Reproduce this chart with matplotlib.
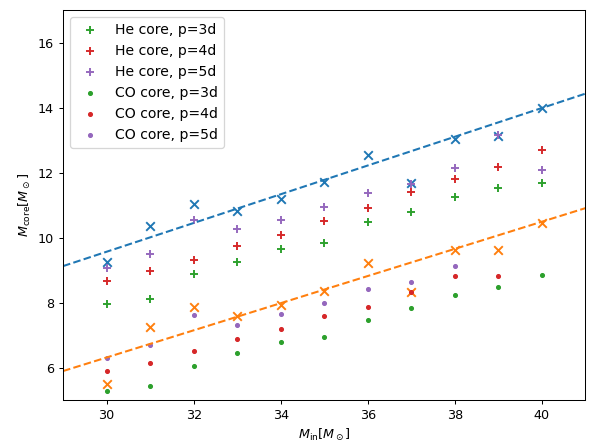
import numpy as np
import matplotlib
matplotlib.use("Agg")
import matplotlib.pyplot as plt

m_in = [30, 31, 32, 33, 34, 35, 36, 37, 38, 39, 40]

# reference core masses (crosses) and their linear relations
ref_he = [9.26, 10.37, 11.05, 10.83, 11.20, 11.72, 12.55, 11.69, 13.05, 13.14, 14.00]
ref_co = [5.48, 7.26, 7.85, 7.60, 7.94, 8.37, 9.23, 8.34, 9.63, 9.63, 10.46]
fit_he = [0.4425, -3.71]   # slope, intercept
fit_co = [0.418, -6.23]

# He core masses
he_3d = [7.96, 8.11, 8.88, 9.26, 9.66, 9.82, 10.49, 10.80, 11.24, 11.52, 11.68]
he_4d = [8.66, 8.97, 9.32, 9.73, 10.09, 10.51, 10.91, 11.39, 11.80, 12.17, 12.70]
he_5d = [9.07, 9.51, 10.55, 10.28, 10.55, 10.94, 11.37, 11.66, 12.15, 13.17, 12.09]

# CO core masses (nan = no model)
co_3d = [5.27, 5.42, 6.04, 6.44, 6.79, 6.95, 7.45, 7.84, 8.22, 8.48, 8.85]
co_4d = [5.89, 6.14, 6.52, 6.89, 7.19, 7.60, 7.87, 8.32, 8.82, 8.83, np.nan]
co_5d = [6.28, 6.68, 7.61, 7.31, 7.64, 7.99, 8.42, 8.64, 9.14, np.nan, np.nan]

fig, ax = plt.subplots(figsize=(589/92, 444/92), dpi=92)
fig.subplots_adjust(left=0.107, right=0.994, top=0.977, bottom=0.099)

xx = np.array([29, 41])
ax.plot(xx, np.polyval(fit_he, xx), '--', color='C0', lw=1.6)
ax.plot(xx, np.polyval(fit_co, xx), '--', color='C1', lw=1.6)
ax.scatter(m_in, ref_he, marker='x', s=45, color='C0')
ax.scatter(m_in, ref_co, marker='x', s=45, color='C1')

ax.scatter(m_in, he_3d, marker='+', s=45, color='C2', label='He core, p=3d')
ax.scatter(m_in, he_4d, marker='+', s=45, color='C3', label='He core, p=4d')
ax.scatter(m_in, he_5d, marker='+', s=45, color='C4', label='He core, p=5d')
ax.scatter(m_in, co_3d, marker='.', s=35, color='C2', label='CO core, p=3d')
ax.scatter(m_in, co_4d, marker='.', s=35, color='C3', label='CO core, p=4d')
ax.scatter(m_in, co_5d, marker='.', s=35, color='C4', label='CO core, p=5d')

ax.set_xlim(29, 41)
ax.set_ylim(5, 17)
ax.set_xlabel(r'$M_{\rm in}[M_\odot]$')
ax.set_ylabel(r'$M_{\rm core}[M_\odot]$')
ax.legend(loc='upper left', fontsize=11)

plt.savefig('out.png', dpi=92)
